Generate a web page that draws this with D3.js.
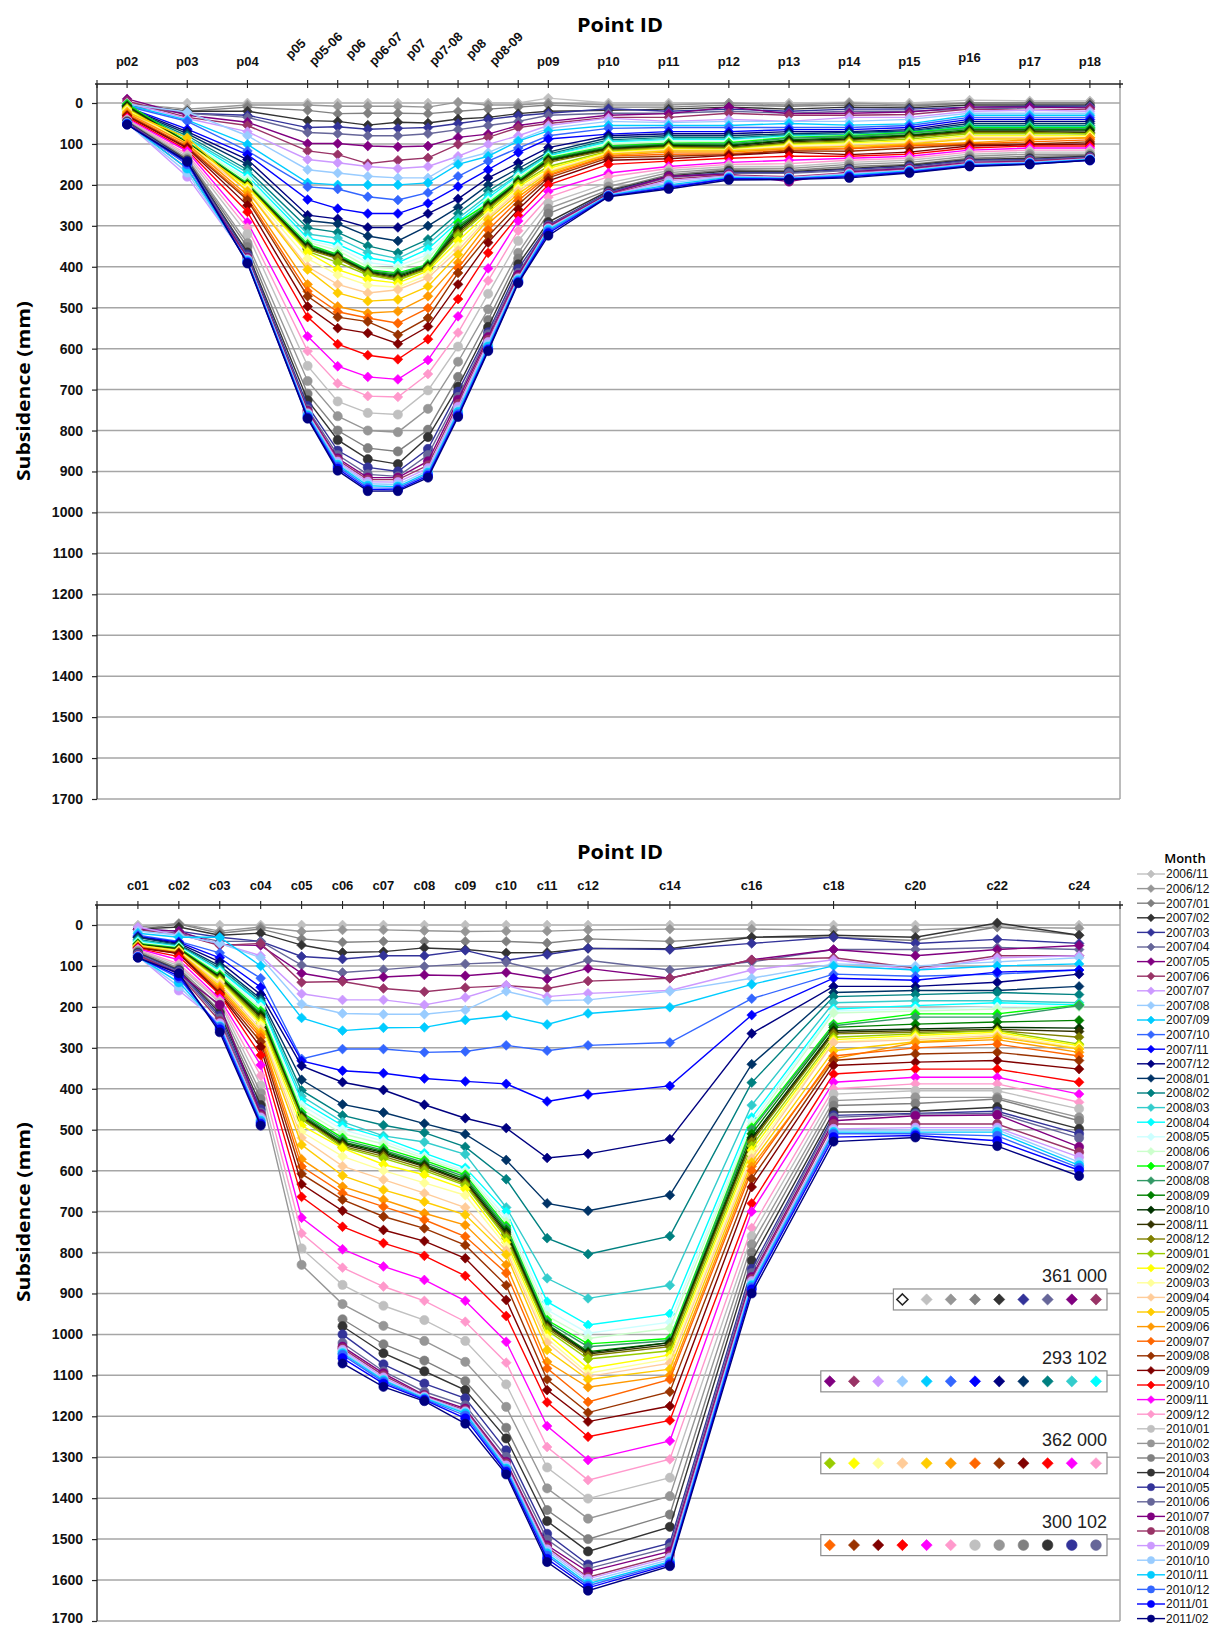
<!DOCTYPE html>
<html>
<head>
<meta charset="utf-8">
<script src="https://cdn.jsdelivr.net/npm/d3@7"></script>
<style>
  body { margin: 0; background: #fff; }
  svg { display: block; font-family: "Liberation Sans", Arial, sans-serif; }
</style>
</head>
<body>
<svg id="chart" width="1218" height="1626"></svg>
<script>
// survey months, one series each
const months = [
  '2006/11','2006/12','2007/01','2007/02','2007/03','2007/04','2007/05','2007/06','2007/07','2007/08',
  '2007/09','2007/10','2007/11','2007/12','2008/01','2008/02','2008/03','2008/04','2008/05','2008/06',
  '2008/07','2008/08','2008/09','2008/10','2008/11','2008/12','2009/01','2009/02','2009/03','2009/04',
  '2009/05','2009/06','2009/07','2009/08','2009/09','2009/10','2009/11','2009/12','2010/01','2010/02',
  '2010/03','2010/04','2010/05','2010/06','2010/07','2010/08','2010/09','2010/10','2010/11','2010/12',
  '2011/01','2011/02'
];
const monthColors = [
  '#c0c0c0','#969696','#808080','#333333','#333399','#666699','#800080','#993366','#cc99ff','#99ccff',
  '#00ccff','#3366ff','#0000ff','#000080','#003366','#008080','#33cccc','#00ffff','#ccffff','#ccffcc',
  '#00ff00','#339966','#008000','#003300','#333300','#808000','#99cc00','#ffff00','#ffff99','#ffcc99',
  '#ffcc00','#ff9900','#ff6600','#993300','#800000','#ff0000','#ff00ff','#ff99cc','#c0c0c0','#969696',
  '#808080','#333333','#333399','#666699','#800080','#993366','#cc99ff','#99ccff','#00ccff','#3366ff',
  '#0000ff','#000080'
];
// diamonds up to 2009/12, circles afterwards
const monthShapes = months.map(m => m >= '2010/01' ? 'circle' : 'diamond');

const yTicks = d3.range(0, 1701, 100);

// ---- upper profile (p points) ----
const topPoints = ['p02','p03','p04','p05','p05-06','p06','p06-07','p07','p07-08','p08','p08-09',
                   'p09','p10','p11','p12','p13','p14','p15','p16','p17','p18'];
const topPointPos = [0,1,2,3,3.5,4,4.5,5,5.5,6,6.5,7,8,9,10,11,12,13,14,15,16];
// one array per point, 52 months each (mm)
const topSubsidence = [
  [0,2,3,5,6,8,-10,-5,0,3, 5,8,10,12,14,15,16,17,18,18, 2,5,6,8,10,12,14,15,18,20,
   22,25,28,30,32,35,38,40,42,44, 45,46,47,48,48,49,49,50,50,51, 52,53],
  [0,15,20,20,25,25,30,35,38,22, 42,45,64,70,75,80,85,88,90,92, 95,96,97,98,99,100,100,100,100,102,
   85,100,105,108,110,115,118,125,130,135, 138,140,142,145,150,160,180,170,160,150, 145,143],
  [0,5,10,20,30,35,47,55,70,80, 101,117,126,138,150,163,170,178,185,190, 196,198,200,201,202,203,204,205,210,214,
   216,225,232,237,250,266,291,305,320,342, 352,365,370,375,378,380,382,384,386,388, 390,392],
  [0,5,18,43,60,72,99,117,138,163, 195,205,236,274,287,305,320,330,335,340, 345,348,350,352,355,358,362,365,380,400,
   407,443,460,472,497,523,570,606,642,679, 710,726,740,748,752,755,758,760,763,766, 769,771],
  [0,8,26,45,58,75,99,126,146,171, 200,210,258,283,295,316,330,345,352,360, 370,372,374,376,378,380,390,407,420,443,
   464,497,510,523,550,589,643,685,729,765, 800,823,849,860,868,872,876,880,884,888, 893,898],
  [0,8,25,54,64,80,105,148,155,179, 200,229,270,304,325,349,365,378,390,400, 407,409,411,413,415,417,420,431,445,464,
   484,513,525,534,562,616,669,716,757,800, 843,870,890,907,915,920,925,930,935,940, 944,948],
  [0,8,25,47,62,80,107,140,160,183, 200,237,270,304,337,366,380,390,398,405, 415,418,421,424,427,430,433,440,450,456,
   480,509,538,566,588,626,675,718,761,804, 851,882,900,912,915,920,926,932,937,941, 945,948],
  [0,10,26,49,60,75,105,134,155,183, 195,219,245,270,300,333,345,357,370,380, 394,396,398,400,402,404,406,410,420,427,
   448,472,501,525,546,577,628,662,702,747, 798,816,845,860,875,885,892,898,903,907, 911,915],
  [0,-2,20,39,50,65,84,101,130,140, 150,179,204,234,255,270,282,290,295,298, 292,300,305,310,315,320,325,337,350,360,
   370,390,403,415,443,479,521,561,595,632, 669,693,705,718,725,735,742,750,755,760, 764,767],
  [0,5,15,35,40,55,76,84,101,121, 130,142,163,183,200,215,225,232,238,242, 245,248,250,252,255,258,262,268,275,280,
   285,295,310,325,341,366,404,434,466,504, 530,547,560,565,572,578,584,590,595,600, 603,606],
  [0,5,10,26,31,45,55,60,80,90, 93,110,121,146,160,170,175,178,180,183, 188,190,192,194,196,198,200,205,210,215,
   222,230,238,248,260,275,288,312,337,366, 380,394,405,415,420,425,428,430,433,436, 438,440],
  [-12,0,5,20,25,30,45,50,55,62, 68,80,88,109,120,125,128,130,132,133, 134,136,138,140,142,145,155,160,165,168,
   171,175,178,183,190,200,216,230,245,258, 270,291,298,300,302,304,306,308,310,314, 318,324],
  [0,5,10,18,14,25,30,35,37,45, 55,62,76,80,85,90,93,96,98,100, 105,107,109,111,113,115,118,120,122,124,
   125,128,130,134,140,150,171,180,195,204, 212,215,218,220,222,224,225,226,226,227, 228,229],
  [0,5,10,15,20,25,26,35,45,48, 55,60,70,75,80,84,87,90,92,94, 98,100,102,104,106,108,110,112,114,116,
   117,120,125,130,136,142,155,160,165,170, 175,178,180,182,179,186,190,195,200,204, 207,210],
  [0,0,5,10,15,20,10,25,40,45, 55,60,70,75,80,85,88,90,92,95, 97,100,103,105,108,110,112,114,115,116,
   117,120,124,126,128,135,145,150,155,160, 163,166,170,172,174,176,178,180,182,184, 185,188],
  [0,5,8,15,20,25,26,30,45,45, 50,60,65,70,75,78,80,82,83,84, 84,86,90,92,95,98,100,102,104,108,
   110,112,115,117,120,130,140,148,155,160, 165,168,170,172,192,180,182,183,184,185, 186,187],
  [-2,0,5,10,15,20,25,30,35,45, 54,60,65,70,72,76,78,79,80,80, 80,82,85,88,90,92,95,98,100,104,
   106,110,112,118,126,130,135,140,145,150, 155,160,162,165,168,170,172,174,176,178, 180,183],
  [0,5,8,12,15,20,22,28,35,40, 51,55,60,65,68,70,72,73,74,75, 72,74,78,80,82,84,88,92,95,98,
   100,102,105,110,120,125,130,135,140,145, 150,152,155,158,160,162,164,165,166,168, 169,171],
  [-7,0,0,5,10,15,10,15,20,25, 30,35,40,45,50,55,58,60,62,62, 60,62,65,68,70,72,75,80,82,85,
   88,97,100,102,105,110,115,120,125,130, 135,138,140,142,145,147,148,150,151,152, 154,155],
  [-5,0,0,5,8,12,10,18,18,25, 30,35,40,45,50,55,58,60,62,62, 60,62,65,68,70,72,75,80,82,85,
   88,90,95,100,102,105,110,115,120,125, 130,135,138,140,142,143,145,146,147,148, 149,150],
  [-5,0,0,5,8,10,12,15,20,25, 30,35,40,45,50,55,58,60,62,62, 60,62,65,68,72,75,75,80,82,85,
   85,85,90,95,100,105,110,115,120,125, 128,130,132,133,134,135,136,137,138,139, 140,140]
];

// ---- lower profile (c points) ----
const bottomPoints = ['c01','c02','c03','c04','c05','c06','c07','c08','c09','c10','c11','c12',
                      'c14','c16','c18','c20','c22','c24'];
const bottomPointPos = [1,2,3,4,5,6,7,8,9,10,11,12,14,16,18,20,22,24];
const bottomSubsidence = [
  [0,5,10,10,10,12,10,12,5,15, 20,25,28,30,30,35,38,40,42,44, 45,46,47,48,49,50,50,50,51,52,
   52,53,54,55,56,57,58,60,62,64, 66,68,70,72,74,75,76,77,78,78, 79,80],
  [0,-4,-2,5,15,20,15,22,25,25, 30,40,42,45,48,50,52,53,54,55, 56,57,58,59,60,61,62,63,64,65,
   66,68,70,68,70,77,85,95,100,105, 108,110,112,115,118,120,160,150,140,130, 125,118],
  [0,15,20,25,30,40,48,50,45,45, 30,68,80,90,100,105,110,112,115,118, 122,125,126,128,130,132,135,138,140,145,
   150,155,160,165,168,170,180,185,190,200, 210,215,222,228,195,235,240,245,248,250, 255,262],
  [0,5,10,20,40,40,50,45,75,80, 100,130,152,170,180,185,190,193,200,205, 210,215,218,222,226,230,235,240,245,255,
   262,268,275,285,298,318,342,368,392,410, 425,440,450,458,462,466,470,474,478,482, 486,490],
  [0,16,34,49,77,98,118,140,168,193, 227,327,332,344,378,404,418,430,440,450, 458,462,465,468,470,472,475,490,505,520,
   537,572,590,608,633,664,715,753,790,830, null,null,null,null,null,null,null,null,null,null, null,null],
  [0,12,42,67,83,116,135,138,183,216, 258,303,356,384,438,465,481,490,500,510, 520,525,530,533,536,540,543,545,565,589,
   612,639,655,671,698,737,792,837,879,926, 963,980,1000,1021,1030,1034,1038,1042,1046,1050, 1058,1071],
  [0,12,40,65,75,109,127,155,183,218, 251,303,362,403,458,489,515,520,528,535, 545,550,553,556,560,565,570,585,600,622,
   647,671,688,712,745,777,834,883,930,979, 1024,1046,1073,1090,1095,1100,1105,1110,1112,1116, 1120,1128],
  [0,14,40,56,75,101,122,163,195,218, 250,311,375,439,485,507,530,557,565,570, 575,580,585,588,590,595,600,610,630,655,
   676,704,720,741,772,808,867,918,965,1016, 1064,1090,1120,1140,1148,1150,1152,1154,1156,1158, 1160,1163],
  [0,16,40,60,62,95,124,153,177,208, 232,309,382,472,511,542,560,593,600,605, 610,615,620,625,628,632,636,645,660,690,
   708,733,761,782,814,857,918,969,1016,1067, 1114,1136,1156,1173,1181,1185,1188,1190,1193,1198, 1205,1218],
  [0,15,40,68,86,91,116,148,147,162, 221,294,388,496,574,621,690,700,715,725, 735,740,745,750,755,760,765,775,785,795,
   805,830,850,880,916,955,1018,1069,1122,1177, 1228,1254,1283,1299,1311,1315,1320,1325,1328,1332, 1336,1342],
  [0,15,44,67,72,114,132,155,175,185, 243,307,431,569,680,765,863,920,940,955, 965,970,975,978,981,985,990,1000,1010,1020,
   1038,1067,1083,1110,1136,1166,1224,1275,1325,1376, 1429,1456,1487,1501,1515,1520,1525,1530,1535,1540, 1548,1556],
  [0,12,34,57,57,86,106,137,167,183, 216,294,414,559,698,804,912,977,997,1010, 1023,1030,1042,1045,1048,1052,1060,1083,1095,1103,
   1110,1129,1165,1191,1213,1250,1307,1356,1401,1450, 1500,1530,1562,1572,1580,1593,1597,1603,1609,1614, 1619,1626],
  [0,10,40,58,60,110,130,130,160,162, 201,287,393,523,660,760,880,950,970,985, 1010,1015,1020,1020,1025,1030,1040,1050,1060,1070,
   1085,1100,1110,1140,1175,1210,1260,1305,1350,1395, 1440,1470,1510,1520,1530,1540,1545,1550,1555,1558, 1562,1566],
  [0,10,30,30,45,90,85,85,110,130, 145,180,220,265,340,385,440,470,480,490, 495,500,510,520,525,530,540,550,560,570,
   580,590,600,620,640,680,700,740,760,780, 800,820,840,850,860,865,870,875,880,885, 890,900],
  [0,12,30,25,30,60,60,80,85,95, 100,120,130,150,165,175,190,205,210,215, 242,246,250,258,262,266,274,280,285,287,
   307,327,320,331,343,364,384,400,413,429, 441,457,465,470,478,486,498,502,506,510, 518,529],
  [0,12,38,30,45,60,75,105,110,100, 110,125,135,150,160,170,185,197,205,210, 217,225,242,254,258,262,266,270,275,280,
   285,287,300,315,335,352,372,388,405,421, 436,455,460,462,466,486,495,500,506,510, 514,519],
  [0,5,5,-5,35,55,60,75,80,90, 100,120,115,140,160,165,185,190,200,205, 217,225,237,250,255,258,258,262,266,270,
   274,280,291,311,331,352,372,388,405,421, 425,445,455,460,464,486,495,500,506,515, 527,540],
  [0,8,25,25,45,60,50,75,75,80, 95,110,110,120,150,170,190,195,197,200, 195,197,233,252,260,274,291,295,300,303,
   303,311,320,331,352,384,413,433,449,470, 478,498,510,520,542,555,567,579,587,593, 599,613]
];

// survey-source boxes drawn inside the lower chart
const sourceLabels = ['361 000', '293 102', '362 000', '300 102'];
const sourceGridValue = [900, 1100, 1300, 1500];
const sourceMarkers = [
  ['open','#c0c0c0','#969696','#808080','#333333','#333399','#666699','#800080','#993366'],
  ['#800080','#993366','#cc99ff','#99ccff','#00ccff','#3366ff','#0000ff','#000080','#003366','#008080','#33cccc','#00ffff'],
  ['#99cc00','#ffff00','#ffff99','#ffcc99','#ffcc00','#ff9900','#ff6600','#993300','#800000','#ff0000','#ff00ff','#ff99cc'],
  ['#ff6600','#993300','#800000','#ff0000','#ff00ff','#ff99cc','#c0c0c0','#969696','#808080','#333333','#333399','#666699']
];
const sourceShapes = [
  'ddddddddd', 'dddddddddddd', 'dddddddddddd', 'ddddddcccccc'
];

const svg = d3.select('#chart');
const PLOT_L = 97, PLOT_R = 1120, GRID = '#a6a6a6';

function diamondPath(s) {
  return `M0,${-s}L${s},0L0,${s}L${-s},0Z`;
}

function addMarker(sel, shape, color, size) {
  if (shape === 'circle') {
    sel.append('circle').attr('r', size).attr('fill', color).attr('stroke', color).attr('stroke-width', 0.6);
  } else {
    sel.append('path').attr('d', diamondPath(size + 0.3)).attr('fill', color).attr('stroke', color).attr('stroke-width', 0.6);
  }
}

function drawPanel(cfg) {
  const x = d3.scaleLinear().domain(cfg.xDomain).range([PLOT_L, PLOT_R]);
  const y = d3.scaleLinear().domain([0, 1700]).range([cfg.zeroY, cfg.zeroY + 696]);
  const g = svg.append('g');

  // horizontal gridlines + right border
  g.append('g').selectAll('line').data(yTicks).join('line')
    .attr('x1', PLOT_L).attr('x2', PLOT_R)
    .attr('y1', d => y(d)).attr('y2', d => y(d))
    .attr('stroke', GRID).attr('stroke-width', 1.5);
  g.append('line').attr('x1', PLOT_R).attr('x2', PLOT_R)
    .attr('y1', cfg.axisY).attr('y2', y(1700)).attr('stroke', GRID).attr('stroke-width', 1.5);

  // left value axis
  const yAxis = g.append('g').attr('transform', `translate(${PLOT_L},0)`)
    .call(d3.axisLeft(y).tickValues(yTicks).tickSize(5).tickPadding(9).tickFormat(d3.format('d')));
  yAxis.select('.domain').remove();
  yAxis.selectAll('.tick line').attr('stroke', '#222').attr('stroke-width', 1.2);
  yAxis.selectAll('.tick text').attr('font-size', 14).attr('font-weight', 'bold').attr('fill', '#111');
  // keep the last label of the lower chart inside the page
  if (cfg.liftLast) yAxis.selectAll('.tick text').filter(d => d === 1700).attr('dy', '0.08em');
  g.append('line').attr('x1', PLOT_L).attr('x2', PLOT_L)
    .attr('y1', cfg.axisY).attr('y2', y(1700)).attr('stroke', '#222').attr('stroke-width', 1.3);

  // top category axis
  g.append('line').attr('x1', PLOT_L - 2).attr('x2', PLOT_R + 3)
    .attr('y1', cfg.axisY).attr('y2', cfg.axisY).attr('stroke', '#222').attr('stroke-width', 1.5);
  const tickXs = [PLOT_L, PLOT_R].concat(cfg.pos.map(d => x(d)));
  g.append('g').selectAll('line').data(tickXs).join('line')
    .attr('x1', d => d).attr('x2', d => d)
    .attr('y1', cfg.axisY - 4).attr('y2', cfg.axisY + 4)
    .attr('stroke', '#222').attr('stroke-width', 1.1);

  const labels = g.append('g').attr('font-size', 13).attr('font-weight', 'bold').attr('fill', '#111');
  cfg.points.forEach((name, i) => {
    const px = x(cfg.pos[i]);
    if (cfg.rotated && cfg.rotated.includes(name)) {
      labels.append('text').attr('text-anchor', 'middle')
        .attr('transform', `translate(${px - 9},${cfg.labelY - 14}) rotate(-45)`)
        .text(name);
    } else {
      labels.append('text').attr('text-anchor', 'middle')
        .attr('x', px).attr('y', name === 'p16' ? cfg.labelY - 4 : cfg.labelY)
        .text(name);
    }
  });

  // titles
  g.append('text').attr('x', 620).attr('y', cfg.titleY).attr('text-anchor', 'middle')
    .attr('font-family', '"Open Sans", "Noto Sans", sans-serif').attr('font-weight', 'bold')
    .attr('font-size', 20).attr('textLength', 86).attr('lengthAdjust', 'spacingAndGlyphs')
    .text('Point ID');
  g.append('text').attr('transform', `translate(30,${cfg.yTitleY}) rotate(-90)`)
    .attr('text-anchor', 'middle')
    .attr('font-family', '"Open Sans", "Noto Sans", sans-serif').attr('font-weight', 'bold')
    .attr('font-size', 18).attr('textLength', 180).attr('lengthAdjust', 'spacingAndGlyphs')
    .text('Subsidence (mm)');

  // series, drawn in month order so later months sit on top
  const line = d3.line().defined(d => d.v != null).x(d => x(d.p)).y(d => y(d.v));
  const seriesG = g.append('g');
  months.forEach((m, i) => {
    const pts = cfg.pos.map((p, j) => ({ p, v: cfg.cols[j][i] }));
    const sg = seriesG.append('g');
    sg.append('path').attr('d', line(pts)).attr('fill', 'none')
      .attr('stroke', monthColors[i]).attr('stroke-width', 1.4);
    pts.filter(d => d.v != null).forEach(d => {
      const mk = sg.append('g').attr('transform', `translate(${x(d.p)},${y(d.v)})`);
      addMarker(mk, monthShapes[i], monthColors[i], 4.6);
    });
  });
  return { x, y, g };
}

drawPanel({
  points: topPoints, pos: topPointPos, cols: topSubsidence,
  xDomain: [-0.5, 16.5], axisY: 84, zeroY: 103,
  labelY: 66, titleY: 32, yTitleY: 391,
  rotated: ['p05','p05-06','p06','p06-07','p07','p07-08','p08','p08-09']
});

const lower = drawPanel({
  points: bottomPoints, pos: bottomPointPos, cols: bottomSubsidence,
  xDomain: [0, 25], axisY: 905, zeroY: 925,
  labelY: 890, titleY: 859, yTitleY: 1212, liftLast: true
});

// source boxes
sourceLabels.forEach((label, k) => {
  const cy = lower.y(sourceGridValue[k]) + 6;
  const n = sourceMarkers[k].length;
  const step = 24.2;
  const right = 1107;
  const left = right - 10 - step * (n - 1) - 11 + 1;
  const bg = svg.append('g');
  bg.append('text').attr('x', right).attr('y', cy - 17).attr('text-anchor', 'end')
    .attr('font-size', 18).attr('fill', '#222').text(label);
  bg.append('rect').attr('x', left).attr('y', cy - 10.5).attr('width', right - left).attr('height', 21)
    .attr('fill', '#fff').attr('stroke', '#8c8c8c').attr('stroke-width', 1.2);
  sourceMarkers[k].forEach((c, j) => {
    const mx = right - 11 - step * (n - 1 - j);
    const mk = bg.append('g').attr('transform', `translate(${mx},${cy})`);
    if (c === 'open') {
      mk.append('path').attr('d', diamondPath(5.5)).attr('fill', '#fff').attr('stroke', '#222').attr('stroke-width', 1.6);
    } else {
      addMarker(mk, sourceShapes[k][j] === 'c' ? 'circle' : 'diamond', c, 5.3);
    }
  });
});

// month legend
const legend = svg.append('g');
legend.append('text').attr('x', 1185).attr('y', 863).attr('text-anchor', 'middle')
  .attr('font-family', '"Open Sans", "Noto Sans", sans-serif').attr('font-weight', 600)
  .attr('font-size', 13).text('Month');
months.forEach((m, i) => {
  const ly = 874 + i * 14.6;
  const it = legend.append('g');
  it.append('line').attr('x1', 1137).attr('x2', 1165).attr('y1', ly).attr('y2', ly)
    .attr('stroke', monthColors[i]).attr('stroke-width', 1.4);
  const mk = it.append('g').attr('transform', `translate(1151,${ly})`);
  addMarker(mk, monthShapes[i], monthColors[i], 3.6);
  it.append('text').attr('x', 1166).attr('y', ly + 4.3).attr('font-size', 12).attr('fill', '#111').text(m);
});
</script>
</body>
</html>
